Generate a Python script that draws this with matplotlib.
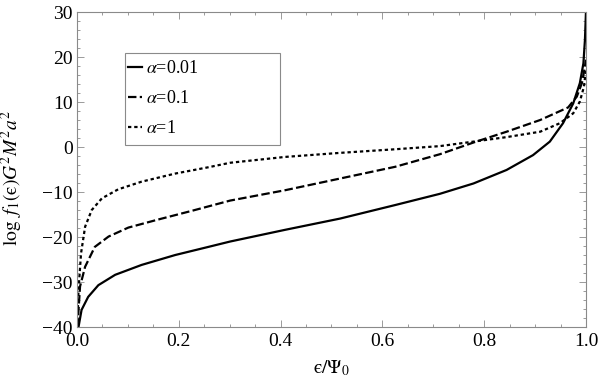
import numpy as np
import matplotlib
matplotlib.use('Agg')
import matplotlib.pyplot as plt
from matplotlib.patches import Rectangle

plt.rcParams['font.family'] = ['Liberation Serif', 'DejaVu Serif']
plt.rcParams['mathtext.fontset'] = 'stix'

########################################################## data

# alpha = 0.01 (solid)
x_a001 = [0.003, 0.009, 0.022, 0.042, 0.075, 0.127, 0.193, 0.258, 0.301, 0.409, 0.517,
          0.625, 0.713, 0.779, 0.844, 0.896, 0.929, 0.955, 0.975, 0.988, 0.995, 0.998, 1.0]
y_a001 = [-40.0, -36.2, -33.3, -30.7, -28.4, -26.2, -24.0, -22.2, -21.0, -18.4, -15.9,
          -12.9, -10.4, -8.1, -5.1, -1.8, 1.2, 5.3, 9.7, 14.2, 18.6, 23.8, 30.0]

# alpha = 0.1 (dashed)
x_a01 = [0.001, 0.006, 0.016, 0.035, 0.062, 0.101, 0.160, 0.225, 0.301, 0.409, 0.517,
         0.625, 0.713, 0.779, 0.844, 0.910, 0.965, 0.982, 0.992, 0.998, 1.0]
y_a01 = [-40.0, -31.0, -26.6, -22.2, -19.9, -17.9, -16.1, -14.2, -11.9, -9.6, -7.0,
         -4.4, -1.6, 1.0, 3.4, 6.0, 8.8, 11.2, 14.2, 17.9, 19.4]

# alpha = 1 (dotted)
x_a1 = [0.0005, 0.003, 0.008, 0.016, 0.029, 0.049, 0.081, 0.127, 0.193, 0.258, 0.301, 0.409,
        0.517, 0.625, 0.713, 0.779, 0.844, 0.910, 0.949, 0.975, 0.988, 0.996, 1.0]
y_a1 = [-40.0, -31.8, -23.6, -17.7, -14.0, -11.4, -9.4, -7.7, -5.9, -4.5, -3.5, -2.2,
        -1.3, -0.5, 0.2, 1.2, 2.2, 3.4, 5.3, 7.5, 10.1, 13.4, 17.1]

labels = [r'$\alpha$=0.01', r'$\alpha$=0.1', r'$\alpha$=1']

xticks = [0.0, 0.2, 0.4, 0.6, 0.8, 1.0]
yticks = [-40, -30, -20, -10, 0, 10, 20, 30]

########################################################## plot

fig = plt.figure(figsize=(6, 3.84), dpi=100)
ax = fig.add_axes([0.1283, 0.1484, 0.8483, 0.8203])

lw = 1.6
ax.plot(x_a001, y_a001, color='k', lw=lw, linestyle='-', label=labels[0])
ax.plot(x_a01, y_a01, color='k', lw=lw, linestyle=(0, (3.8, 1.5)), label=labels[1])
ax.plot(x_a1, y_a1, color='k', lw=lw, linestyle=(0, (1.5, 1.3)), label=labels[2])

ax.set_xlim(0, 1)
ax.set_ylim(-40, 30)
ax.set_xticks(xticks)
ax.set_xticklabels(['%.1f' % v for v in xticks])
ax.set_yticks(yticks)
ax.set_yticklabels([str(v).replace('-', '\u2212') for v in yticks])
ax.set_xticks(np.arange(0, 1.0001, 0.05), minor=True)
ax.set_yticks(np.arange(-40, 30.001, 2), minor=True)

frame_col = '#8a8a8a'
for sp in ax.spines.values():
    sp.set_color(frame_col)
    sp.set_linewidth(0.8)
ax.tick_params(which='both', direction='in', top=True, right=True, color=frame_col,
               labelsize=14, width=0.6)
ax.tick_params(which='major', length=5)
ax.tick_params(which='minor', length=2.5)
ax.tick_params(axis='y', pad=3)
ax.tick_params(axis='x', pad=4)

ax.set_ylabel('$\\log\\ f_1(\\mathrm{\u03f5})G^2M^2a^2$', fontsize=14)
ax.yaxis.set_label_coords(-0.102, 0.472)
ax.set_xlabel('$\\mathrm{\u03f5}/\\Psi_0$', fontsize=14)
ax.xaxis.set_label_coords(0.5, -0.1)

leg = ax.legend(loc='upper left', bbox_to_anchor=(0.100, 0.847), frameon=False,
                fontsize=13, handlelength=0.78, handletextpad=0.2, labelspacing=0.72,
                borderpad=0, borderaxespad=0)
ax.add_patch(Rectangle((0.0943, 0.578), 0.3045, 0.293, transform=ax.transAxes,
                       facecolor='none', edgecolor=frame_col, lw=0.8, zorder=5))

plt.savefig('out.png', dpi=100)
